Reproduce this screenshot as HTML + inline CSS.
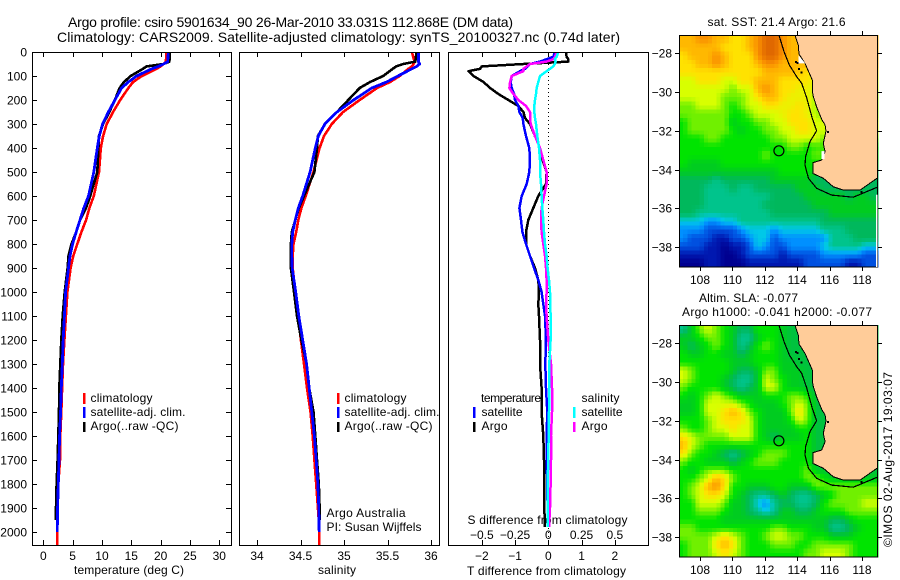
<!DOCTYPE html>
<html lang="en">
<head>
<meta charset="utf-8">
<title>Argo profile 5901634_90</title>
<style>
html,body{margin:0;padding:0;background:#fff;}
svg{display:block;font-family:"Liberation Sans",sans-serif;font-size:12px;fill:#000;}
.t{font-size:14px;}
</style>
</head>
<body>
<svg id="chart" xmlns="http://www.w3.org/2000/svg" width="900" height="580" viewBox="0 0 900 580">
  <rect x="0" y="0" width="900" height="580" fill="#fff"/>
  <defs>
    <clipPath id="clip-p1"><rect x="32" y="52" width="199" height="493"/></clipPath>
    <clipPath id="clip-p2"><rect x="239" y="52" width="200" height="493"/></clipPath>
    <clipPath id="clip-p3"><rect x="448" y="52" width="200" height="493"/></clipPath>
    <clipPath id="clip-m1"><rect x="679" y="35" width="199" height="232"/></clipPath>
    <clipPath id="clip-m2"><rect x="679" y="325" width="199" height="232"/></clipPath>
  </defs>

  <text class="t" x="68" y="27" textLength="445" lengthAdjust="spacing">Argo profile: csiro 5901634_90 26-Mar-2010 33.031S 112.868E (DM data)</text>
  <text class="t" x="57" y="42" textLength="563" lengthAdjust="spacing">Climatology: CARS2009. Satellite-adjusted climatology: synTS_20100327.nc (0.74d later)</text>

  <text x="74" y="574" textLength="110" lengthAdjust="spacing">temperature (deg C)</text>
  <text x="318" y="574" textLength="38" lengthAdjust="spacing">salinity</text>
  <text x="467.5" y="524" textLength="160" lengthAdjust="spacing">S difference from climatology</text>
  <text x="467" y="575" textLength="159" lengthAdjust="spacing">T difference from climatology</text>

  <g>
    <rect x="83" y="393" width="2.5" height="11" fill="#f00"/>
    <rect x="83" y="407" width="2.5" height="11" fill="#00f"/>
    <rect x="83" y="422" width="2.5" height="10" fill="#000"/>
    <text x="90.5" y="402" textLength="62" lengthAdjust="spacing">climatology</text>
    <text x="90.5" y="416" textLength="95" lengthAdjust="spacing">satellite-adj. clim.</text>
    <text x="90.5" y="430" textLength="88" lengthAdjust="spacing">Argo(..raw -QC)</text>
  </g>
  <g>
    <rect x="337" y="393" width="2.5" height="11" fill="#f00"/>
    <rect x="337" y="407" width="2.5" height="11" fill="#00f"/>
    <rect x="337" y="422" width="2.5" height="10" fill="#000"/>
    <text x="344.5" y="402" textLength="62" lengthAdjust="spacing">climatology</text>
    <text x="344.5" y="416" textLength="95" lengthAdjust="spacing">satellite-adj. clim.</text>
    <text x="344.5" y="430" textLength="88" lengthAdjust="spacing">Argo(..raw -QC)</text>
    <text x="326.5" y="517" textLength="79" lengthAdjust="spacing">Argo Australia</text>
    <text x="326.5" y="531" textLength="95" lengthAdjust="spacing">PI: Susan Wijffels</text>
  </g>
  <g>
    <text x="481" y="402" textLength="60" lengthAdjust="spacing">temperature</text>
    <rect x="473" y="407" width="2.5" height="11" fill="#00f"/>
    <rect x="473" y="422" width="2.5" height="10" fill="#000"/>
    <text x="481.5" y="416" textLength="41" lengthAdjust="spacing">satellite</text>
    <text x="481.5" y="430" textLength="26" lengthAdjust="spacing">Argo</text>
    <text x="581.5" y="402" textLength="38" lengthAdjust="spacing">salinity</text>
    <rect x="573" y="407" width="2.5" height="11" fill="#0ff"/>
    <rect x="573" y="422" width="2.5" height="10" fill="#f0f"/>
    <text x="581.5" y="416" textLength="41" lengthAdjust="spacing">satellite</text>
    <text x="581.5" y="430" textLength="26" lengthAdjust="spacing">Argo</text>
  </g>

  <text x="707.5" y="26" textLength="138" lengthAdjust="spacing">sat. SST: 21.4 Argo: 21.6</text>
  <text x="699" y="302" textLength="99" lengthAdjust="spacing">Altim. SLA: -0.077</text>
  <text x="682" y="316" textLength="190" lengthAdjust="spacing">Argo h1000: -0.041 h2000: -0.077</text>
  <text transform="translate(892 547) rotate(-90)" textLength="175" lengthAdjust="spacing">©IMOS 02-Aug-2017 19:03:07</text>

  <g id="layer-p1"></g>
  <g id="layer-p2"></g>
  <g id="layer-p3"></g>
  <g id="layer-m1"></g>
  <g id="layer-m2"></g>
</svg>

<script>
// ---- profile data ----
const tsDepths = [0,40,50,60,70,100,125,150,200,250,300,350,400,500,600,650,700,750,800,850,900,1000,1100,1200,1300,1400,1500,1600,1700,1800,1900,1950,2000,2054];
const tempClimatology = [21,20.9,20.5,20,19.3,16.8,15.3,14.5,13.1,11.9,10.8,10.2,9.8,9.5,8.6,7.85,7.3,6.5,5.8,5.1,4.65,4.1,3.86,3.6,3.35,3.2,3.07,2.9,2.84,2.56,2.44,2.4,2.39,2.39];
const tempSatellite = [21.3,21.2,20.5,19.6,18.5,15.9,14.5,13.35,12.2,11.1,10.1,9.55,9.2,8.6,7.7,6.9,6.25,5.6,5,4.55,4.3,3.8,3.6,3.4,3.24,3.07,2.95,2.78,2.67,2.56,2.44,2.4,2.39];
const tempArgo = [21.6,21.5,20.5,17.6,17,14.9,13.75,13,12.2,11.25,10.2,9.5,9.4,9.2,8,7.3,6.25,5.6,4.8,4.3,4.15,3.65,3.3,3.07,2.9,2.73,2.67,2.56,2.44,2.27,2.16,2.15];
const salClimatology = [35.78,35.81,35.8,35.78,35.74,35.64,35.53,35.38,35.18,34.99,34.86,34.77,34.72,34.65,34.56,34.51,34.475,34.45,34.42,34.41,34.41,34.44,34.475,34.505,34.54,34.575,34.615,34.64,34.66,34.68,34.7,34.71,34.715,34.715];
const salSatellite = [35.855,35.855,35.87,35.835,35.78,35.62,35.49,35.32,35.11,34.92,34.78,34.705,34.67,34.61,34.525,34.475,34.44,34.41,34.4,34.4,34.405,34.445,34.48,34.525,34.57,34.6,34.63,34.66,34.68,34.7,34.71,34.712,34.715];
const salArgo = [35.835,35.82,35.68,35.6,35.56,35.45,35.3,35.18,35.05,34.92,34.78,34.7,34.69,34.66,34.54,34.48,34.44,34.4,34.39,34.39,34.39,34.425,34.46,34.51,34.57,34.6,34.65,34.67,34.69,34.71,34.72,34.72];

const diffDepths = [0,20,30,40,50,60,70,80,100,125,150,175,200,225,250,275,300,350,400,450,500,550,600,650,700,750,800,850,900,950,1000,1050,1100,1200,1300,1400,1500,1600,1700,1800,1900,1980];
const tempDiffArgo = [0.53,0.55,0.6,0.6,-0.75,-2,-2.05,-2.4,-2.25,-1.95,-1.75,-1.5,-1.2,-0.9,-0.75,-0.7,-0.55,-0.4,-0.25,-0.17,-0.05,-0.07,-0.3,-0.45,-0.6,-0.67,-0.67,-0.55,-0.4,-0.3,-0.28,-0.3,-0.28,-0.25,-0.25,-0.2,-0.2,-0.15,-0.13,-0.13,-0.12,-0.1];
const tempDiffSatellite = [0.2,0.15,-0.05,-0.25,-0.55,-0.63,-0.7,-0.85,-1.1,-1.13,-1.1,-1.03,-1,-0.9,-0.87,-0.77,-0.75,-0.67,-0.57,-0.55,-0.57,-0.65,-0.8,-0.87,-0.82,-0.78,-0.67,-0.55,-0.43,-0.3,-0.2,-0.15,-0.1,-0.07,-0.09,-0.07,-0.03,-0.05,-0.05,-0.03,-0.02,-0.02];
const salDiffArgo = [0.0625,0.05,0.0375,-0.0125,-0.1375,-0.1625,-0.1875,-0.1875,-0.275,-0.2875,-0.2925,-0.2625,-0.225,-0.1675,-0.1375,-0.1375,-0.1325,-0.1,-0.0625,-0.0375,-0.0125,-0.0125,-0.0325,-0.05,-0.055,-0.05,-0.0375,-0.025,-0.0175,-0.0125,-0.0125,-0.0175,-0.0125,0,0.02,0.0275,0.0275,0.02,0.02,0.0175,0.0125,0.005];
const salDiffSatellite = [0.075,0.0625,0.05,0.055,0.05,0.0375,0.0125,-0.0125,-0.0625,-0.075,-0.0875,-0.0925,-0.1,-0.105,-0.105,-0.1,-0.0925,-0.0825,-0.07,-0.0625,-0.0625,-0.055,-0.05,-0.045,-0.0375,-0.0325,-0.025,-0.0125,-0.005,0.005,0.0125,0.015,0.0175,0.0175,0.0075,0.0075,0.005,0.0025,0,-0.005,-0.005,-0.005];

// ---- tick labels ----
const depthTicks = [0,100,200,300,400,500,600,700,800,900,1000,1100,1200,1300,1400,1500,1600,1700,1800,1900,2000];
const tempTicks = [0,5,10,15,20,25,30];
const salTicks = [34,34.5,35,35.5,36];
const tempDiffTicks = [-2,-1,0,1,2];
const salDiffTicks = [-0.5,-0.25,0,0.25,0.5];
const lonTicks = [108,110,112,114,116,118];
const latTicks = [-28,-30,-32,-34,-36,-38];

// ---- map data: colour-scale levels, rows north to south, columns west to east ----
const sstLevels = [
[12,12,13,13,12,12,11,11,12,13,14,14,13,12,12,12,12,12,12,12,12,12,12,12],
[12,12,12,12,12,11,11,11,12,13,14,14,13,12,12,12,12,12,12,12,12,12,12,12],
[11,12,12,12,13,12,11,11,11,13,14,14,13,12,12,12,12,12,12,12,12,12,12,12],
[11,11,12,12,13,12,11,11,11,12,13,13,12,12,12,12,12,12,12,12,12,12,12,12],
[11,11,11,11,11,11,11,11,11,11,12,12,12,12,11.5,11,11,11,11,11,11,11,11,11],
[10,10,11,11,11,10,10,11,11,12,12,12,11,11,11,11,10,10,10,10,10,10,10,10],
[10,10,10,10,10,10,9,10,10,12,13,12,11,11,10.5,10.5,10,10,10,10,10,10,10,10],
[10,10,10,10,10,9,9,9,10,11,12,12,11,10.5,10.5,10.5,9.5,9.5,9.5,9.5,9.5,9.5,9.5,9.5],
[9,9,10,10,10,9,8,9,10,10,11,11,10.5,10.5,11,10.5,9.5,9.5,9.5,9.5,9.5,9.5,9.5,9.5],
[9,9,9,9,9,9,8,8,9,10,10,10,10.5,11,11,10.5,9.5,9.5,9.5,9.5,9.5,9.5,9.5,9.5],
[8,9,9,9,9,9,7,8,8,9,9,10,10,11,11,11,10,10,10,10,10,10,10,10],
[8,9,9,9,9,9,8,7,8,8,9,9,10,10,11,11,10,10,10,10,10,10,10,10],
[8,8,8,9,9,8,8,8,8,8,8,9,9,10,10,10,10,9,9,9,9,9,9,9],
[8,8,8,8,8,8,8,8,8,8,8,8,8,9,9,8,8.5,8.5,8,8,8,8,8,8],
[8,8,8,8,8,8,8,8,8,8,9,8,8,8,8,8,9,8.5,8,8,8,8,8,8],
[8,7,7,7,7,8,8,8,8,8,8,8,8,8,8,8,8,8,7,7,7,7,7,7],
[7,7,7,7,7,7,7,7,7,7,7,7,8,8,8,8,7,6,6,6,6,6,6,6],
[6,6,6,6,5,6,6,6,6,6,6,7,7,7,7,7,6,6,6,6,6,6,6,6],
[6,6,6,5,5,5,6,5,5,6,6,6,6,6,7,7,7,6,6,6,6,6,6,6],
[6,6,6,5,5,5,5,5,5,5,5,6,6,6,6,7,7,7,7,7,6,7,7,6],
[6,6,6,5,5,5,5,5,5,5,6,6,6,6,6,6,7,7,7,7,7,7,7,7],
[6,6,5,5,5,5,5,5,5,5,5,6,6,6,6,6,6,6,7,7,7,7,7,7],
[4,4,4,3,3,4,4,5,5,5,5,5,5,5,5,5,5,6,6,6,6,6,6,6],
[3,3,3,2,2,2,2,3,4,4,4,3,4,4,4,4,4,5,5,5,6,6,6,6],
[3,2,2,2,1,1,2,2,3,4,4,2,3,3,3,3,3,3,5,5,5,6,6,6],
[2,2,2,1,1,0,1,1,2,4,3,2,2,3,3,3,3,4,5,5,5,5,4,4],
[1,1,1,1,1,0,0,1,2,2,2,2,1,2,2,2,2,3,3,3,3,3,2,2],
[0,0,0,1,1,0,0,0,1,1,1,1,1,1,1,2,2,2,2,2,1,1,2,2]
];
const slaLevels = [
[5,7,9,10,9,8,7,6,6,8,8,8,7,6.5,6.5,6.5,6.5,6.5,6.5,6.5,6.5,6.5,6.5,6.5],
[7,7,8,9,9,8,7,5,5,7,8,8,7,6.5,6.5,6.5,6.5,6.5,6.5,6.5,6.5,6.5,6.5,6.5],
[7,6,7,8,9,8,7,5,6,8,9,8,7,6.5,6.5,6.5,6.5,6.5,6.5,6.5,6.5,6.5,6.5,6.5],
[8,7,7,8,8,7,7,6,7,8,8,8,7,6.5,6.5,6.5,6.5,6.5,6.5,6.5,6.5,6.5,6.5,6.5],
[8,8,8,8,8,8,7,7,7,8,8,8,7,7,6.5,6.5,6.5,6.5,6.5,6.5,6.5,6.5,6.5,6.5],
[10,9,8,8,8,8,7,6,6,7,9,9,7,7,7,6.5,6.5,6.5,6.5,6.5,6.5,6.5,6.5,6.5],
[10,9,8,8,8,7,6,5,5,7,10,9,8,7,7,6.5,6.5,6.5,6.5,6.5,6.5,6.5,6.5,6.5],
[9,8,8,8,8,7,6,5,6,7,10,10,8,7,7,6.5,6.5,6.5,6.5,6.5,6.5,6.5,6.5,6.5],
[8,7,8,9,10,9,8,7,7,7,8,8,8,9,9,8,6.5,6.5,6.5,6.5,6.5,6.5,6.5,6.5],
[7,7,8,10,10,10,10,9,8,7,7,7,8,9,10,9,6.5,6.5,6.5,6.5,6.5,6.5,6.5,6.5],
[7,7,8,10,10,11,12,11,9,8,7,7,7,9,11,9,6.5,6.5,6.5,6.5,6.5,6.5,6.5,6.5],
[8,8,8,9,10,11,11,11,10,8,7,7,7,8,10,9,6.5,6.5,6.5,6.5,6.5,6.5,6.5,6.5],
[9,8,8,9,10,10,11,10,10,8,7,7,7,7,8,8,6.5,6.5,6.5,6.5,6.5,6.5,6.5,6.5],
[11,10,9,9,9,9,10,10,10,8,7,6,7,7,7,8,6.5,6.5,6.5,6.5,6.5,6.5,6.5,6.5],
[12,10,9,8,8,8,8,8,8,8,8,8,8,8,8,8,6.5,6.5,6.5,6.5,6.5,6.5,6.5,6.5],
[11,9,8,8,7,6,5,6,7,8,9,9,9,8,8,8,6.5,6.5,6.5,6.5,6.5,6.5,6.5,6.5],
[9,8,8,7,7,7,6,7,8,9,9,9,8,8,8,8,6.5,6.5,6.5,6.5,6.5,6.5,6.5,6.5],
[8,7,8,9,9,9,8,8,8,8,8,8,8,8,8,9,7,6.5,6.5,6.5,6.5,6.5,6.5,6.5],
[8,8,9,10,12,11,9,8,8,8,8,8,8,8,8,9,9,8,7,7,7,7,7,7],
[8,9,10,12,13,11,8,8,7,7,7,8,8,7,7,7,9,9,9,9,9,9,9,9],
[8,9,10,11,11,10,8,7,6,5,5,6,7,6,5,5,6,7,8,9,9,9,9,9],
[8,8,10,10,10,9,7,7,6,4,3,5,6,6,5,5,6,8,9,9,9,9,10,10],
[8,8,9,9,9,8,7,7,6,5,4,5,7,7,6,6,7,8,8,8,9,9,9,9],
[8,8,8,8,8,7,7,7,7,7,7,7,7,7,7,7,7,7,6,6,7,8,8,8],
[9,9,8,8,8,8,8,8,8,8,8,9,9,8,8,8,7,7,5,5,6,7,8,8],
[9,9,9,9,10,11,10,9,8,8,9,10,10,9,9,8,8,8,7,7,7,8,8,8],
[8,9,9,9,11,12,11,9,8,8,8,9,9,9,8,8,9,9,9,9,9,8,8,8],
[8,9,9,9,10,11,10,9,8,8,8,8,8,8,8,9,9,10,10,10,9,8,8,8]
];
const coastLon = [113.86,114.07,114.11,114.48,114.93,114.96,115.2,115.51,115.72,115.78,115.61,115.72,115.51,114.96,114.96,115.61,116.23,116.85,117.88,118.93];
const coastLat = [-27.06,-27.57,-28.04,-28.52,-29.38,-30.15,-30.76,-31.41,-31.7,-32.01,-32.65,-33.08,-33.51,-33.65,-34.2,-34.45,-34.89,-35.06,-35.06,-34.45];
const isobathLon = [112.88,113.19,113.51,113.97,114.28,114.59,114.93,115.04,115.2,114.79,114.52,114.48,114.69,115.2,116.13,117.46,118.93];
const isobathLat = [-27.09,-27.92,-28.6,-29.21,-29.55,-30.32,-31.36,-31.61,-32,-32.56,-33.34,-33.77,-34.45,-34.97,-35.32,-35.43,-34.92];
const islandLon = [113.85,113.95,114.05,114.2,115.85,117.9];
const islandLat = [-28.4,-28.45,-28.75,-28.95,-32,-35.1];
const floatLon = 112.868;
const floatLat = -33.031;

// ---- scales ----
const NS = 'http://www.w3.org/2000/svg';
const yDepth = d => 52 + d * 0.24;
const xTemp = v => 43.3 + v * 5.867;
const xSal = v => 257 + (v - 34) * 87;
const xTempDiff = v => 548.3 + v * 33.25;
const xSalDiff = v => 548.3 + v * 133;
const xLon = lon => 700 + (lon - 108) * 16.2;
const yLat = (lat, off) => 53.3 + off + (-28 - lat) * 19.37;

// colour scale stops for map levels 0..14
const paletteStops = [[0,0,144],[0,24,176],[0,80,224],[0,144,255],[0,200,232],[0,196,140],[0,184,92],[0,204,32],[0,228,0],[112,240,0],[216,255,0],[255,226,0],[255,184,0],[250,144,0],[224,104,0]];
function levelColor(v) {
  const c = Math.max(0, Math.min(paletteStops.length - 1, v));
  const i = Math.min(paletteStops.length - 2, Math.floor(c));
  const f = c - i;
  const rgb = [0,1,2].map(k => Math.round(paletteStops[i][k] + (paletteStops[i+1][k] - paletteStops[i][k]) * f));
  return 'rgb(' + rgb.join(',') + ')';
}

function make(tag, parent, attrs, text) {
  const el = document.createElementNS(NS, tag);
  for (const k in attrs) el.setAttribute(k, attrs[k]);
  if (text !== undefined) el.textContent = text;
  parent.appendChild(el);
  return el;
}
function seg(parent, x1, y1, x2, y2) {
  return make('line', parent, {x1:x1, y1:y1, x2:x2, y2:y2, stroke:'#000', 'stroke-width':1, 'shape-rendering':'crispEdges'});
}
function tickText(parent, x, y, anchor, str) {
  return make('text', parent, {x:x, y:y, 'text-anchor':anchor}, str);
}
const fmt = v => String(v).replace('-', '\u2212');

function frame(parent, x, y, w, h) {
  const el = make('rect', parent, {x:x + 0.5, y:y + 0.5, width:w, height:h, fill:'none', stroke:'#000', 'stroke-width':1.2, 'shape-rendering':'crispEdges'});
  
  
}
function profileLine(parent, clip, xs, depths, xFn, color, width, name) {
  const pts = xs.map((v, i) => xFn(v).toFixed(1) + ',' + yDepth(depths[i]).toFixed(1)).join(' ');
  const el = make('polyline', parent, {points:pts, fill:'none', stroke:color, 'stroke-width':width, 'clip-path':'url(#' + clip + ')', 'stroke-linejoin':'round', 'shape-rendering':'crispEdges'});
  
  
}

// ---- temperature panel ----
const p1 = document.getElementById('layer-p1');
profileLine(p1, 'clip-p1', tempClimatology, tsDepths, xTemp, '#f00', 2.6, 'temperature-climatology-line');
profileLine(p1, 'clip-p1', tempArgo, tsDepths, xTemp, '#000', 2.6, 'temperature-argo-line');
profileLine(p1, 'clip-p1', tempSatellite, tsDepths, xTemp, '#00f', 2.8, 'temperature-satellite-line');
frame(p1, 32, 52, 199, 493);
depthTicks.forEach(d => {
  const y = Math.round(yDepth(d));
  const a = seg(p1, 32, y + .5, 37, y + .5);
  
  
  const b = seg(p1, 226, y + .5, 231, y + .5);
  
  
  const lab = tickText(p1, 27, y + 4.5, 'end', String(d));
  
  
});
tempTicks.forEach(v => {
  const x = Math.round(xTemp(v));
  const a = seg(p1, x + .5, 52, x + .5, 57);
  
  
  const b = seg(p1, x + .5, 540, x + .5, 545);
  
  
  const lab = tickText(p1, xTemp(v), 560, 'middle', String(v));
  
  
});

// ---- salinity panel ----
const p2 = document.getElementById('layer-p2');
profileLine(p2, 'clip-p2', salClimatology, tsDepths, xSal, '#f00', 2.6, 'salinity-climatology-line');
profileLine(p2, 'clip-p2', salArgo, tsDepths, xSal, '#000', 2.6, 'salinity-argo-line');
profileLine(p2, 'clip-p2', salSatellite, tsDepths, xSal, '#00f', 2.8, 'salinity-satellite-line');
frame(p2, 239, 52, 200, 493);
salTicks.forEach(v => {
  const x = Math.round(xSal(v));
  const a = seg(p2, x + .5, 52, x + .5, 57);
  
  
  const b = seg(p2, x + .5, 540, x + .5, 545);
  
  
  const lab = tickText(p2, xSal(v), 560, 'middle', String(v));
  
  
});

// ---- difference panel ----
const p3 = document.getElementById('layer-p3');
const zero = make('line', p3, {x1:548.5, y1:52, x2:548.5, y2:545, stroke:'#000', 'stroke-width':1, 'stroke-dasharray':'1 3', 'shape-rendering':'crispEdges'});


profileLine(p3, 'clip-p3', tempDiffArgo, diffDepths, xTempDiff, '#000', 2.5, 'temperature-difference-argo-line');
profileLine(p3, 'clip-p3', tempDiffSatellite, diffDepths, xTempDiff, '#00f', 2.5, 'temperature-difference-satellite-line');
profileLine(p3, 'clip-p3', salDiffArgo, diffDepths, xSalDiff, '#f0f', 2.5, 'salinity-difference-argo-line');
profileLine(p3, 'clip-p3', salDiffSatellite, diffDepths, xSalDiff, '#0ff', 2.5, 'salinity-difference-satellite-line');
frame(p3, 448, 52, 200, 493);
tempDiffTicks.forEach(v => {
  const x = Math.round(xTempDiff(v));
  const a = seg(p3, x + .5, 52, x + .5, 57);
  
  
  const b = seg(p3, x + .5, 540, x + .5, 545);
  
  
  const lab = tickText(p3, xTempDiff(v), 560, 'middle', fmt(v));
  
  
});
salDiffTicks.forEach(v => {
  const lab = tickText(p3, xSalDiff(v), 539, 'middle', fmt(v));
  
  
});

// ---- maps ----
function sample(grid, rf, cf) {
  const rows = grid.length, cols = grid[0].length;
  const r = Math.max(0, Math.min(rows - 1.001, rf - 0.5));
  const c = Math.max(0, Math.min(cols - 1.001, cf - 0.5));
  const r0 = Math.floor(r), c0 = Math.floor(c), fr = r - r0, fc = c - c0;
  return grid[r0][c0] * (1-fr) * (1-fc) + grid[r0][c0+1] * (1-fr) * fc + grid[r0+1][c0] * fr * (1-fc) + grid[r0+1][c0+1] * fr * fc;
}
function drawMap(layerId, grid, off, clip, prefix) {
  const g = document.getElementById(layerId);
  const left = 679, top = 35 + off, width = 199, height = 232;
  const rows = grid.length, cols = grid[0].length, sub = 2;
  const cw = width / (cols * sub), ch = height / (rows * sub);
  const cells = make('g', g, {'shape-rendering':'crispEdges'});
  
  
  for (let r = 0; r < rows * sub; r++) {
    for (let c = 0; c < cols * sub; c++) {
      const v = sample(grid, (r + 0.5) / sub, (c + 0.5) / sub);
      const cell = make('rect', cells, {x:(left + c * cw).toFixed(2), y:(top + r * ch).toFixed(2), width:(cw + 0.6).toFixed(2), height:(ch + 0.6).toFixed(2), fill:levelColor(v)});
      
      
    }
  }
  const toPts = (lons, lats) => lons.map((lon, i) => xLon(lon).toFixed(1) + ',' + yLat(lats[i], off).toFixed(1));
  const coastPts = toPts(coastLon, coastLat);
  const landPts = coastPts.concat([xLon(119.2).toFixed(1) + ',' + yLat(coastLat[coastLat.length-1], off).toFixed(1), xLon(119.2).toFixed(1) + ',' + yLat(-26.9, off).toFixed(1), xLon(coastLon[0]).toFixed(1) + ',' + yLat(-26.9, off).toFixed(1)]);
  const land = make('polygon', g, {points:landPts.join(' '), fill:'#ffcc99', 'clip-path':'url(#' + clip + ')'});
  
  
  const coast = make('polyline', g, {points:coastPts.join(' '), fill:'none', stroke:'#000', 'stroke-width':1, 'clip-path':'url(#' + clip + ')', 'shape-rendering':'crispEdges'});
  
  
  const iso = make('polyline', g, {points:toPts(isobathLon, isobathLat).join(' '), fill:'none', stroke:'#000', 'stroke-width':1.2, 'clip-path':'url(#' + clip + ')', 'shape-rendering':'crispEdges'});
  
  
  islandLon.forEach((lon, i) => {
    const isl = make('rect', g, {x:xLon(lon).toFixed(1), y:yLat(islandLat[i], off).toFixed(1), width:2, height:2, fill:'#000', 'shape-rendering':'crispEdges'});
    
    
  });
  const marker = make('circle', g, {cx:xLon(floatLon).toFixed(1), cy:yLat(floatLat, off).toFixed(1), r:5, fill:'none', stroke:'#000', 'stroke-width':1.2});
  
  
  frame(g, 679, 35 + off, 198, 231.5);
  lonTicks.forEach(lon => {
    const x = Math.round(xLon(lon));
    const a = seg(g, x + .5, 31 + off, x + .5, 35 + off);
    
    
    const b = seg(g, x + .5, 267 + off, x + .5, 271 + off);
    
    
    const lab = tickText(g, xLon(lon), 284 + off, 'middle', String(lon));
    
    
  });
  latTicks.forEach(lat => {
    const y = Math.round(yLat(lat, off));
    const a = seg(g, 675, y + .5, 679, y + .5);
    
    
    const b = seg(g, 878, y + .5, 882, y + .5);
    
    
    const lab = tickText(g, 672, y + 4.5, 'end', fmt(lat));
    
    
  });
}
drawMap('layer-m1', sstLevels, 0, 'clip-m1', 'sst');
drawMap('layer-m2', slaLevels, 290, 'clip-m2', 'sla');

// small no-data gaps on the SST map
const gapA = make('polygon', document.getElementById('layer-m1'), {points:[xLon(114.08)+','+yLat(-28.1,0), xLon(114.5)+','+yLat(-28.52,0), xLon(114.08)+','+yLat(-28.52,0)].join(' '), fill:'#fff'});


const gapB = make('rect', document.getElementById('layer-m1'), {x:xLon(115.5), y:yLat(-33.05,0), width:3, height:8, fill:'#fff'});


const gapC = make('rect', document.getElementById('layer-m1'), {x:876, y:yLat(-35.3,0), width:1.5, height:267 - yLat(-35.3,0), fill:'#fff'});


</script>
</body>
</html>
